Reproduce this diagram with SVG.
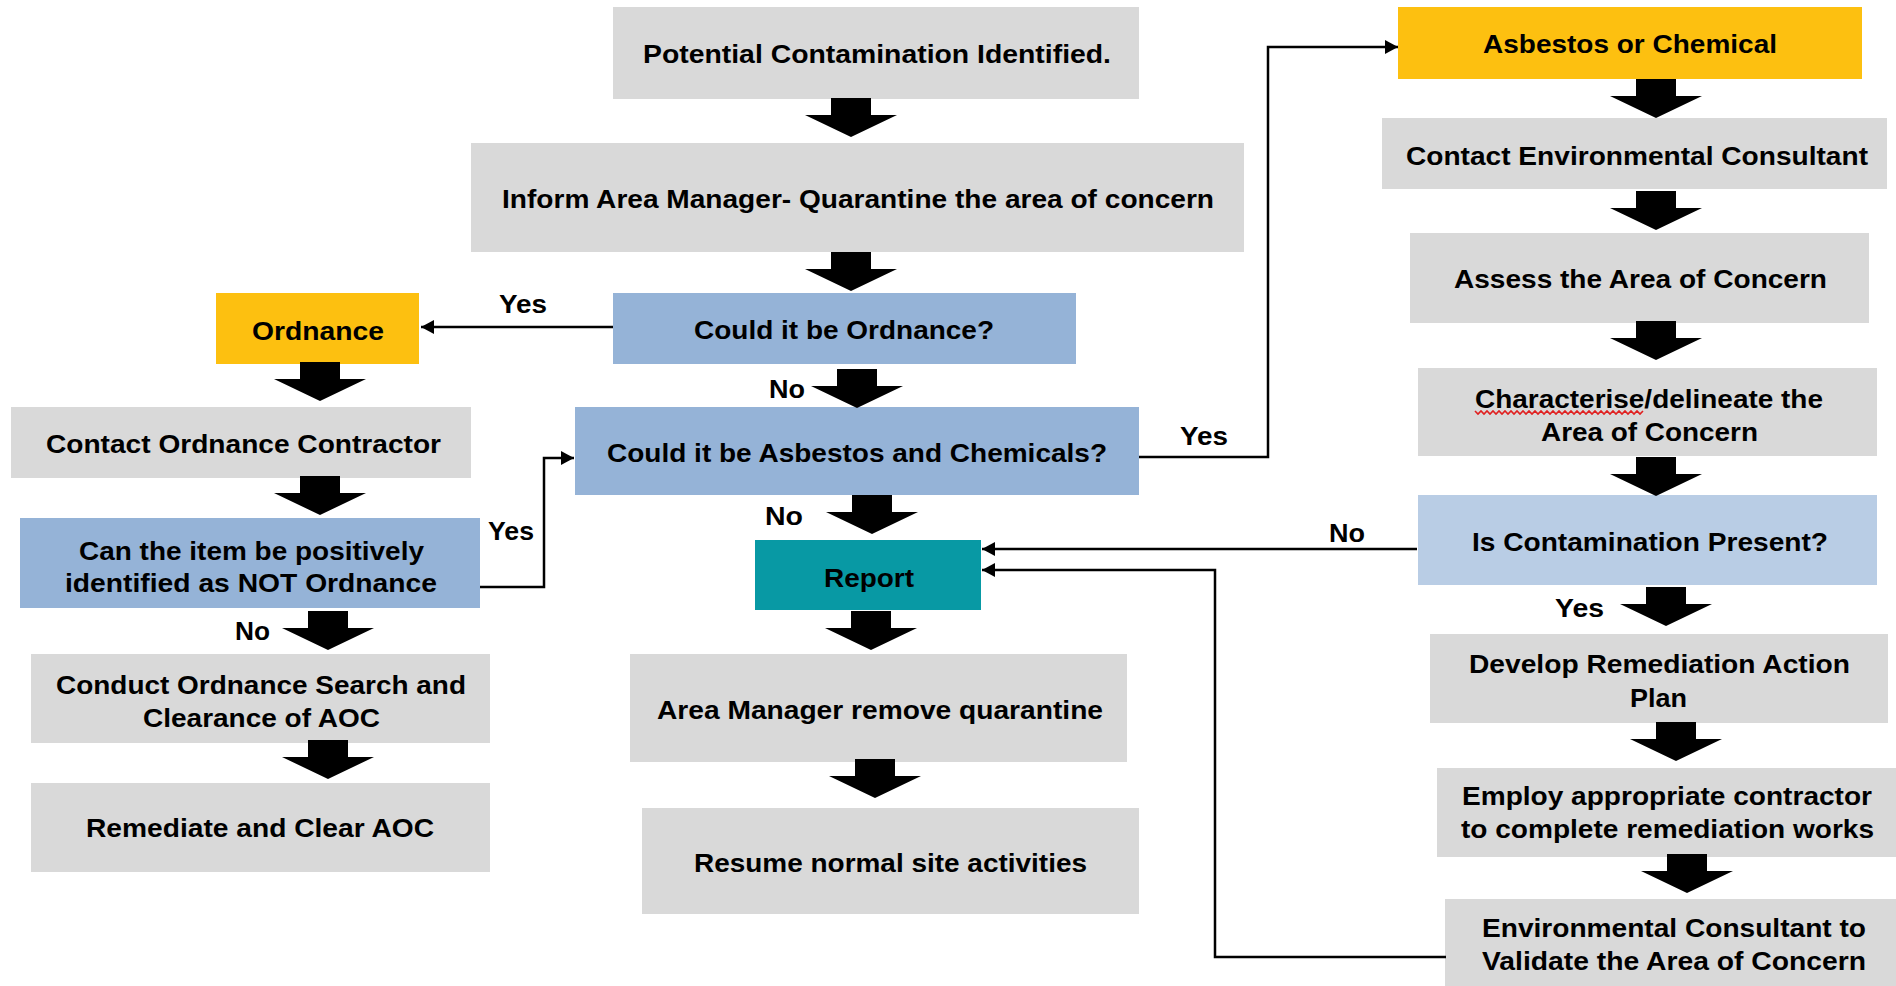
<svg xmlns="http://www.w3.org/2000/svg" xmlns:xlink="http://www.w3.org/1999/xlink" width="1896" height="986" viewBox="0 0 1896 986">
<style>
.g{fill:#d9d9d9}
.b{fill:#95b3d7}
.lb{fill:#b9cde5}
.o{fill:#fdc010}
.t{fill:#0899a4}
text{font-family:"Liberation Sans",Arial,sans-serif;font-weight:bold;font-size:26px;fill:#000}
.c{fill:none;stroke:#000;stroke-width:2.5}
</style>
<defs>
<marker id="ah" markerUnits="userSpaceOnUse" markerWidth="14" markerHeight="14" refX="13" refY="7" orient="auto">
<path d="M0,0 L13,7 L0,14 z" fill="#000"/>
</marker>
<path id="blk" d="M-20,0 H20 V17 H46 L0,39 L-46,17 H-20 Z" fill="#000"/>
</defs>
<rect width="1896" height="986" fill="#fff"/>

<g id="n-potential"><rect class="g" x="613" y="7" width="526" height="92"/><text x="643" y="63" textLength="468" lengthAdjust="spacingAndGlyphs">Potential Contamination Identified.</text></g>
<g id="n-inform"><rect class="g" x="471" y="143" width="773" height="109"/><text x="502" y="208" textLength="712" lengthAdjust="spacingAndGlyphs">Inform Area Manager- Quarantine the area of concern</text></g>
<g id="n-couldord"><rect class="b" x="613" y="293" width="463" height="71"/><text x="694" y="339" textLength="300" lengthAdjust="spacingAndGlyphs">Could it be Ordnance?</text></g>
<g id="n-ordnance"><rect class="o" x="216" y="293" width="203" height="71"/><text x="252" y="340" textLength="132" lengthAdjust="spacingAndGlyphs">Ordnance</text></g>
<g id="n-couldasb"><rect class="b" x="575" y="407" width="564" height="88"/><text x="607" y="462" textLength="500" lengthAdjust="spacingAndGlyphs">Could it be Asbestos and Chemicals?</text></g>
<g id="n-report"><rect class="t" x="755" y="540" width="226" height="70"/><text x="824" y="587" textLength="90" lengthAdjust="spacingAndGlyphs">Report</text></g>
<g id="n-removeq"><rect class="g" x="630" y="654" width="497" height="108"/><text x="657" y="719" textLength="446" lengthAdjust="spacingAndGlyphs">Area Manager remove quarantine</text></g>
<g id="n-resume"><rect class="g" x="642" y="808" width="497" height="106"/><text x="694" y="872" textLength="393" lengthAdjust="spacingAndGlyphs">Resume normal site activities</text></g>
<g id="n-contactord"><rect class="g" x="11" y="407" width="460" height="71"/><text x="46" y="453" textLength="395" lengthAdjust="spacingAndGlyphs">Contact Ordnance Contractor</text></g>
<g id="n-canitem"><rect class="b" x="20" y="518" width="460" height="90"/><text x="79" y="560" textLength="345" lengthAdjust="spacingAndGlyphs">Can the item be positively</text><text x="65" y="592" textLength="372" lengthAdjust="spacingAndGlyphs">identified as NOT Ordnance</text></g>
<g id="n-conduct"><rect class="g" x="31" y="654" width="459" height="89"/><text x="56" y="694" textLength="410" lengthAdjust="spacingAndGlyphs">Conduct Ordnance Search and</text><text x="143" y="727" textLength="237" lengthAdjust="spacingAndGlyphs">Clearance of AOC</text></g>
<g id="n-remediate"><rect class="g" x="31" y="783" width="459" height="89"/><text x="86" y="837" textLength="348" lengthAdjust="spacingAndGlyphs">Remediate and Clear AOC</text></g>
<g id="n-asbchem"><rect class="o" x="1398" y="7" width="464" height="72"/><text x="1483" y="53" textLength="294" lengthAdjust="spacingAndGlyphs">Asbestos or Chemical</text></g>
<g id="n-contactenv"><rect class="g" x="1382" y="118" width="505" height="71"/><text x="1406" y="165" textLength="462" lengthAdjust="spacingAndGlyphs">Contact Environmental Consultant</text></g>
<g id="n-assess"><rect class="g" x="1410" y="233" width="459" height="90"/><text x="1454" y="288" textLength="373" lengthAdjust="spacingAndGlyphs">Assess the Area of Concern</text></g>
<g id="n-character"><rect class="g" x="1418" y="368" width="459" height="88"/><text x="1475" y="408" textLength="348" lengthAdjust="spacingAndGlyphs">Characterise/delineate the</text><text x="1541" y="441" textLength="217" lengthAdjust="spacingAndGlyphs">Area of Concern</text><path d="M1475,411 l3,3 3,-3 3,3 3,-3 3,3 3,-3 3,3 3,-3 3,3 3,-3 3,3 3,-3 3,3 3,-3 3,3 3,-3 3,3 3,-3 3,3 3,-3 3,3 3,-3 3,3 3,-3 3,3 3,-3 3,3 3,-3 3,3 3,-3 3,3 3,-3 3,3 3,-3 3,3 3,-3 3,3 3,-3 3,3 3,-3 3,3 3,-3 3,3 3,-3 3,3 3,-3 3,3 3,-3 3,3 3,-3 3,3 3,-3 3,3 3,-3 3,3 3,-3" fill="none" stroke="#e02020" stroke-width="1.6"/></g>
<g id="n-iscontam"><rect class="lb" x="1418" y="495" width="459" height="90"/><text x="1472" y="551" textLength="356" lengthAdjust="spacingAndGlyphs">Is Contamination Present?</text></g>
<g id="n-develop"><rect class="g" x="1430" y="634" width="458" height="89"/><text x="1469" y="673" textLength="381" lengthAdjust="spacingAndGlyphs">Develop Remediation Action</text><text x="1630" y="707" textLength="57" lengthAdjust="spacingAndGlyphs">Plan</text></g>
<g id="n-employ"><rect class="g" x="1437" y="768" width="459" height="89"/><text x="1462" y="805" textLength="410" lengthAdjust="spacingAndGlyphs">Employ appropriate contractor</text><text x="1461" y="838" textLength="413" lengthAdjust="spacingAndGlyphs">to complete remediation works</text></g>
<g id="n-validate"><rect class="g" x="1445" y="899" width="451" height="87"/><text x="1482" y="937" textLength="384" lengthAdjust="spacingAndGlyphs">Environmental Consultant to</text><text x="1482" y="970" textLength="384" lengthAdjust="spacingAndGlyphs">Validate the Area of Concern</text></g>

<g id="connectors">
<path class="c" d="M613,327 H421" marker-end="url(#ah)"/>
<path class="c" d="M480,587 H544 V458 H574" marker-end="url(#ah)"/>
<path class="c" d="M1139,457 H1268 V47 H1398" marker-end="url(#ah)"/>
<path class="c" d="M1417,549 H982" marker-end="url(#ah)"/>
<path class="c" d="M1446,957 H1215 V570 H982" marker-end="url(#ah)"/>
<use href="#blk" x="851" y="98"/>
<use href="#blk" x="851" y="252"/>
<use href="#blk" x="857" y="369"/>
<use href="#blk" x="872" y="495"/>
<use href="#blk" x="871" y="611"/>
<use href="#blk" x="875" y="759"/>
<use href="#blk" x="320" y="362"/>
<use href="#blk" x="320" y="476"/>
<use href="#blk" x="328" y="611"/>
<use href="#blk" x="328" y="740"/>
<use href="#blk" x="1656" y="79"/>
<use href="#blk" x="1656" y="191"/>
<use href="#blk" x="1656" y="321"/>
<use href="#blk" x="1656" y="457"/>
<use href="#blk" x="1666" y="587"/>
<use href="#blk" x="1676" y="722"/>
<use href="#blk" x="1687" y="854"/>
<text x="499" y="313" textLength="48" lengthAdjust="spacingAndGlyphs">Yes</text>
<text x="488" y="540" textLength="46" lengthAdjust="spacingAndGlyphs">Yes</text>
<text x="1180" y="445" textLength="48" lengthAdjust="spacingAndGlyphs">Yes</text>
<text x="1555" y="617" textLength="49" lengthAdjust="spacingAndGlyphs">Yes</text>
<text x="769" y="398" textLength="36" lengthAdjust="spacingAndGlyphs">No</text>
<text x="765" y="525" textLength="38" lengthAdjust="spacingAndGlyphs">No</text>
<text x="235" y="640" textLength="35" lengthAdjust="spacingAndGlyphs">No</text>
<text x="1329" y="542" textLength="36" lengthAdjust="spacingAndGlyphs">No</text>
</g>
</svg>
